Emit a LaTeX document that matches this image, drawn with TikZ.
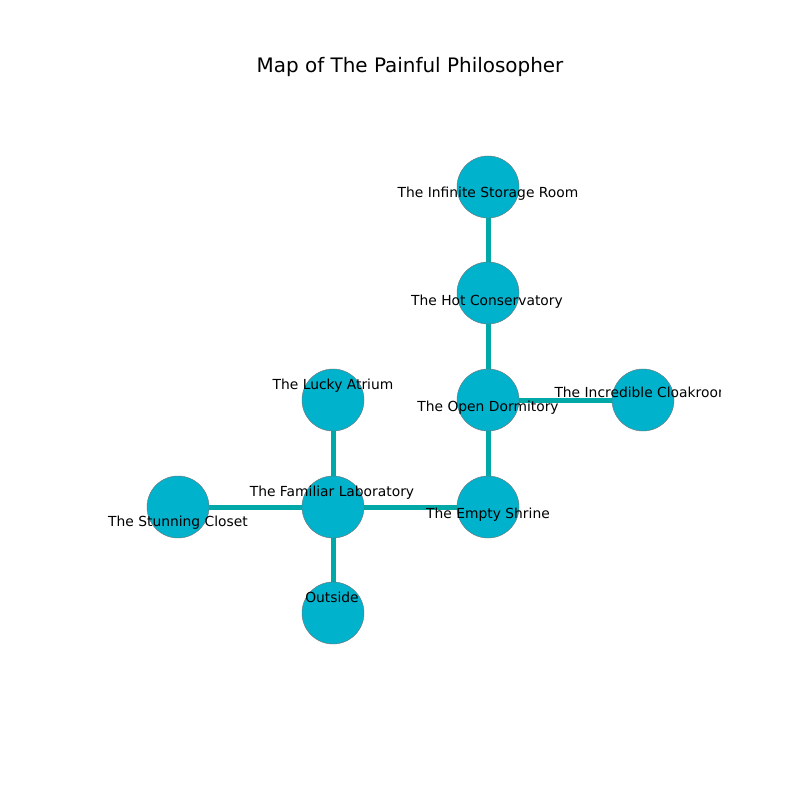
\documentclass[tikz,border=0pt]{standalone}
\usepackage{fontspec}
\setmainfont{DejaVu Sans}
\usetikzlibrary{backgrounds}
\definecolor{roomfill}{HTML}{00B2CC}
\definecolor{passcol}{HTML}{00A8A8}

\begin{document}
\begin{tikzpicture}[x=0.01in,y=-0.01in,
room/.style={circle,fill=roomfill,draw=black!55,line width=0.3pt,minimum size=0.62in,inner sep=0pt},
lbl/.style={font=\fontsize{10}{12}\selectfont,inner sep=0pt,anchor=base},
passage/.style={draw=passcol,line width=0.05in}]
\useasboundingbox (0,0) rectangle (800,800);
\node[font=\fontsize{14.4}{17}\selectfont,anchor=base] (title) at (410,73) {Map of The Painful Philosopher};
% rooms
\node[room] (inf) at (488,187) {};
\node[room] (hot) at (488,293) {};
\node[room] (dorm) at (488,400) {};
\node[room] (cloak) at (643,400) {};
\node[room] (lucky) at (333,400) {};
\node[room] (lab) at (333,507) {};
\node[room] (closet) at (178,507) {};
\node[room] (shrine) at (488,507) {};
\node[room] (out) at (333,613) {};
% passages
\begin{pgfonlayer}{background}
\draw[passage](inf)--(hot)(hot)--(dorm)(dorm)--(cloak)(dorm)--(shrine)
(shrine)--(lab)(lab)--(lucky)(lab)--(closet)(lab)--(out);
\end{pgfonlayer}
% labels
\begin{scope}
\clip (100,96) rectangle (720,712);
\node[lbl] (linf) at (488,198) {The Infinite Storage Room};
\node[lbl] (lhot) at (487,305) {The Hot Conservatory};
\node[lbl] (ldorm) at (488,411) {The Open Dormitory};
\node[lbl] (lcloak) at (643,397) {The Incredible Cloakroom};
\node[lbl] (llucky) at (333,389) {The Lucky Atrium};
\node[lbl] (llab) at (332,496) {The Familiar Laboratory};
\node[lbl] (lcloset) at (178,526) {The Stunning Closet};
\node[lbl] (lshrine) at (488,518) {The Empty Shrine};
\node[lbl] (lout) at (332,602) {Outside};
\end{scope}
\end{tikzpicture}
\end{document}
